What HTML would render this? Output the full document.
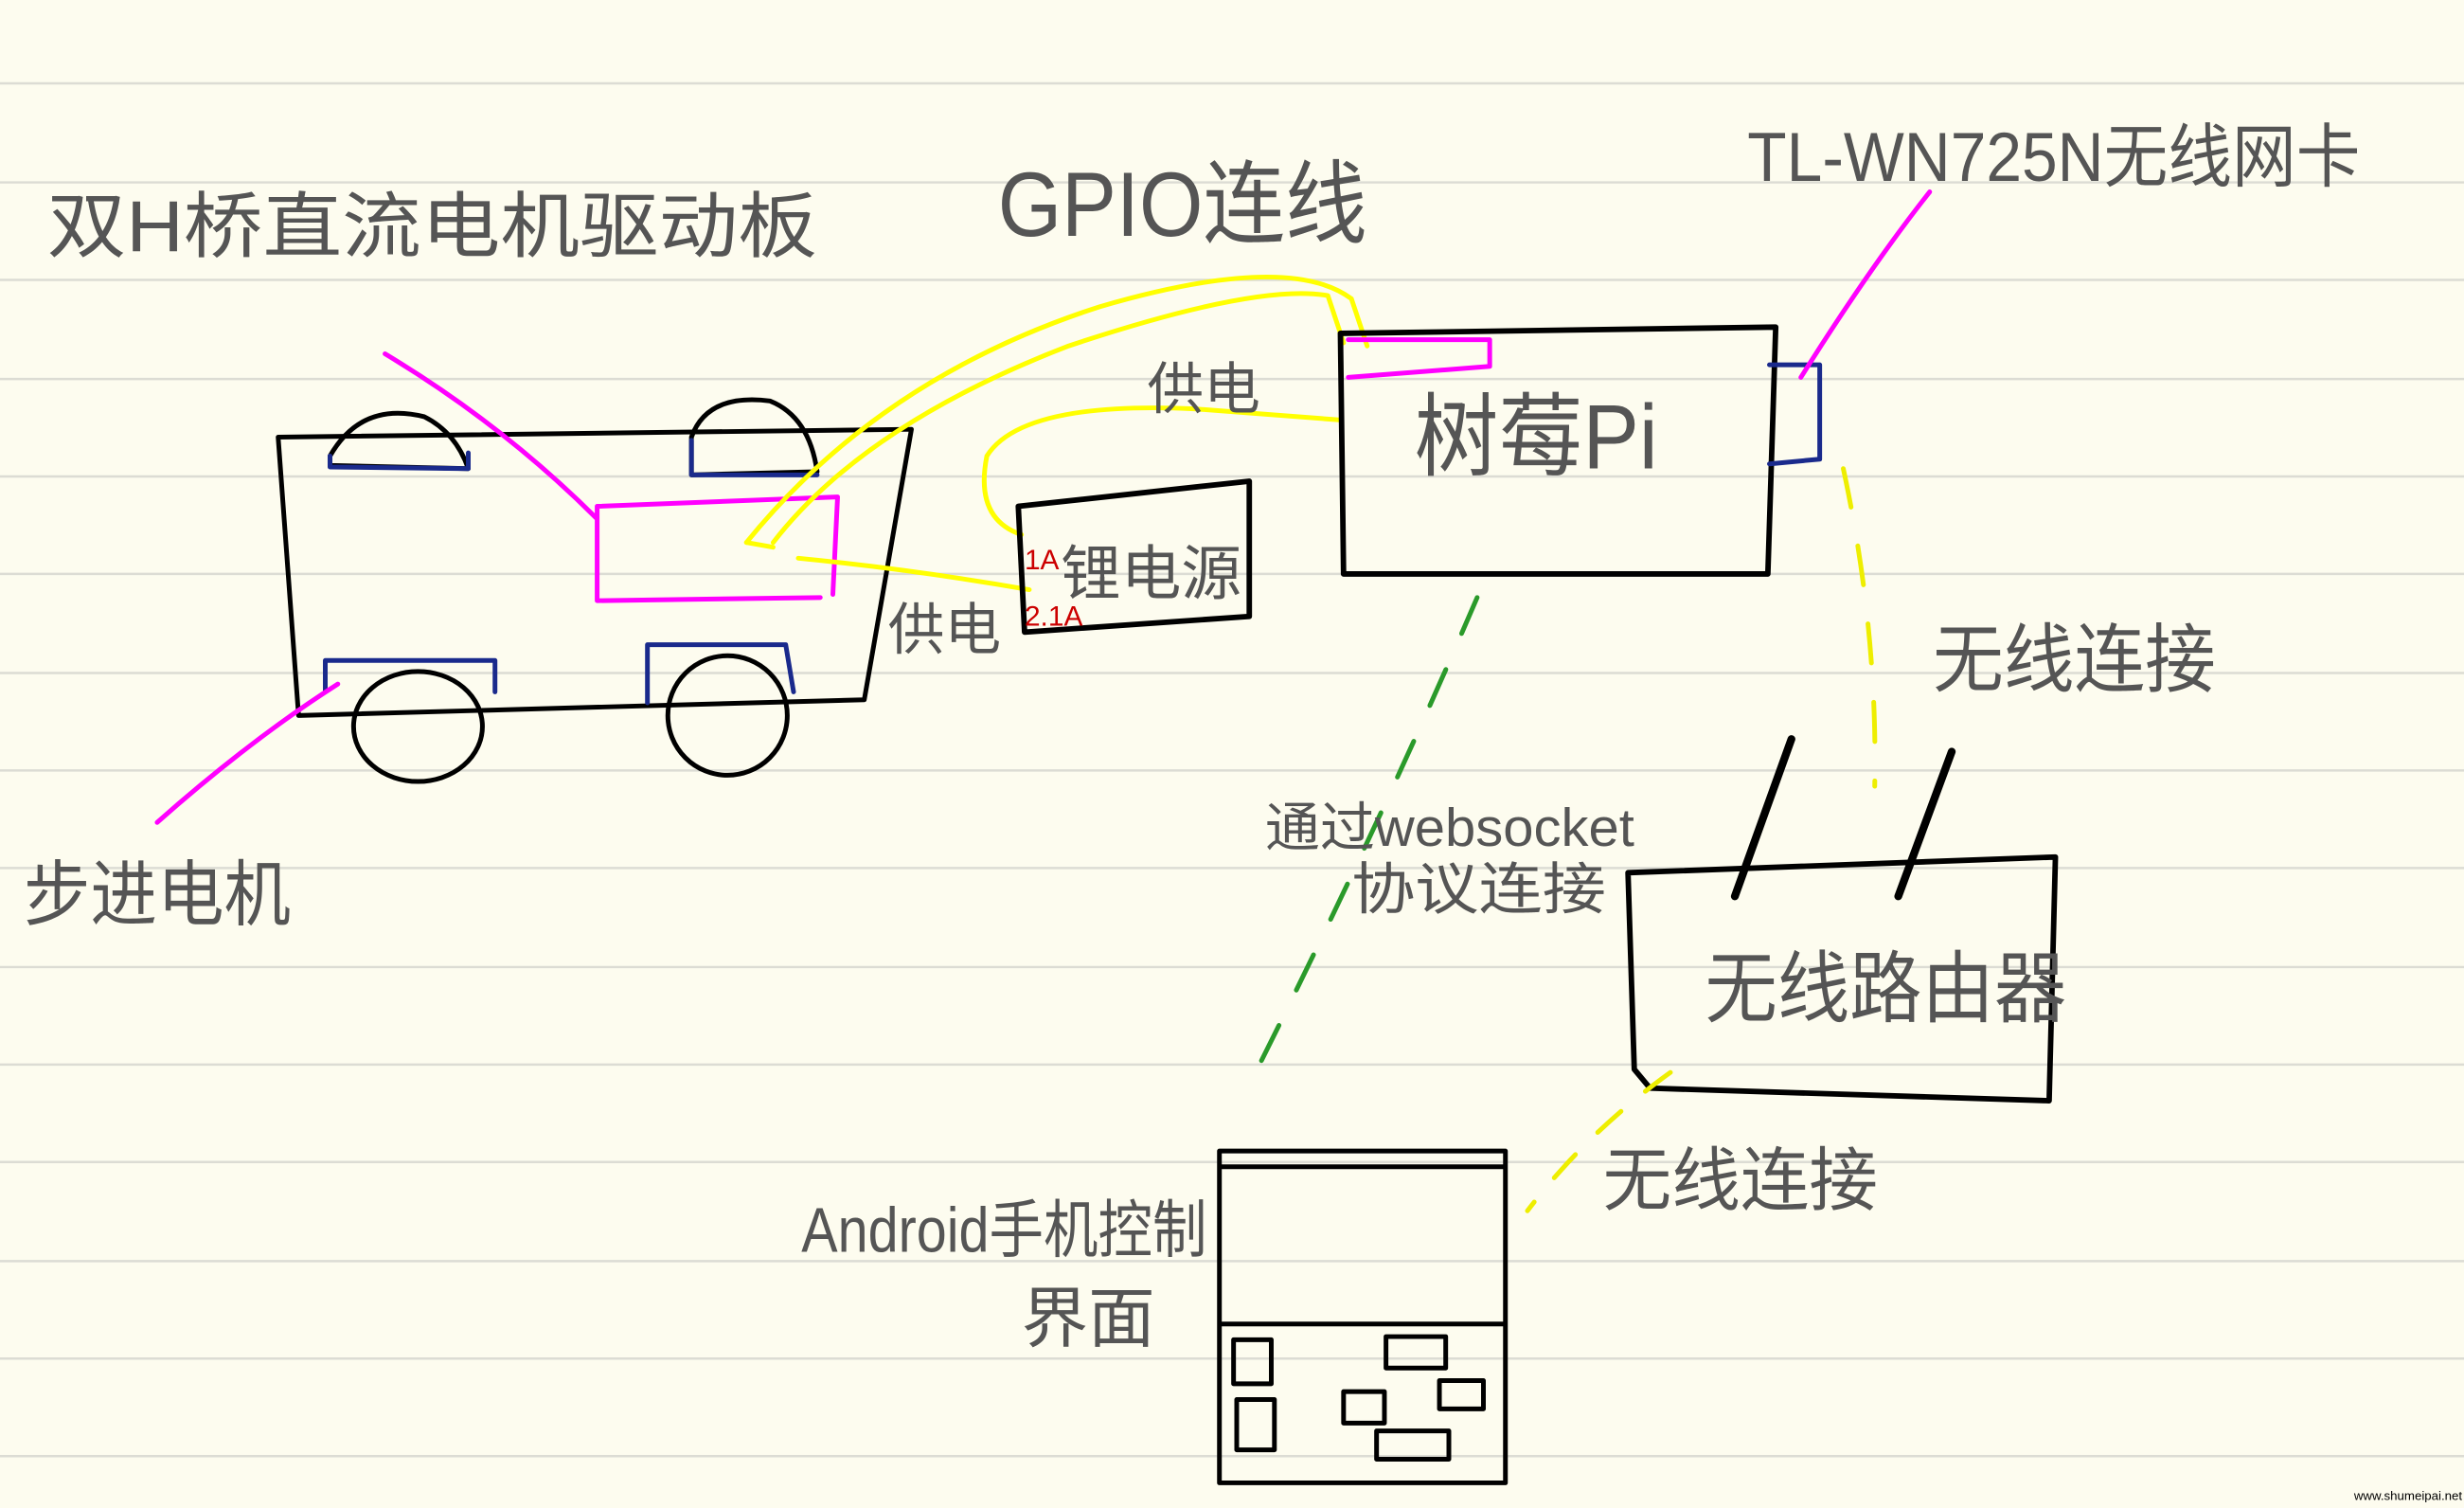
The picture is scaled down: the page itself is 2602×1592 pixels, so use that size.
<!DOCTYPE html>
<html><head><meta charset="utf-8"><style>
html,body{margin:0;padding:0;background:#fdfcef;}
svg{display:block}
text{font-family:"Liberation Sans","Noto Sans CJK SC",sans-serif;fill:#555;}
</style></head><body>
<svg width="2602" height="1592" viewBox="0 0 1568 959" preserveAspectRatio="none" xmlns="http://www.w3.org/2000/svg">
<rect width="1568" height="959" fill="#fdfcef"/>
<g stroke="#dcdcd4" stroke-width="1.5">
<line x1="0" y1="53" x2="1568" y2="53"/><line x1="0" y1="116" x2="1568" y2="116"/><line x1="0" y1="178" x2="1568" y2="178"/><line x1="0" y1="241" x2="1568" y2="241"/><line x1="0" y1="303" x2="1568" y2="303"/><line x1="0" y1="365" x2="1568" y2="365"/><line x1="0" y1="428" x2="1568" y2="428"/><line x1="0" y1="490" x2="1568" y2="490"/><line x1="0" y1="552" x2="1568" y2="552"/><line x1="0" y1="615" x2="1568" y2="615"/><line x1="0" y1="677" x2="1568" y2="677"/><line x1="0" y1="739" x2="1568" y2="739"/><line x1="0" y1="802" x2="1568" y2="802"/><line x1="0" y1="864" x2="1568" y2="864"/><line x1="0" y1="926" x2="1568" y2="926"/>
</g>
<g fill="none" stroke-linecap="round" stroke-linejoin="round">
<path d="M177 278 L580 273 L550 445 L190 455 Z M177 278 L190 455" stroke="#000" stroke-width="3"/>
<path d="M210 290 Q230 255 270 265 Q290 275 298 298 L210 296 Z" stroke="#000" stroke-width="3"/>
<path d="M440 278 Q450 250 490 255 Q515 265 520 300 L440 302 Z" stroke="#000" stroke-width="3"/>
<ellipse cx="266" cy="462" rx="41" ry="35" stroke="#000" stroke-width="3"/>
<ellipse cx="463" cy="455" rx="38" ry="38" stroke="#000" stroke-width="3"/>
<path d="M210 290 L210 297 L298 298 L298 288 M440 280 L440 302 L520 302" stroke="#1a2a8c" stroke-width="3"/>
<path d="M207 440 L207 420 L315 420 L315 440 M412 447 L412 410 L500 410 L505 440" stroke="#1a2a8c" stroke-width="3"/>
<path d="M380 322 L533 316 L530 378 M380 322 L380 382 L522 380 M245 225 Q320 270 380 330" stroke="#f0f" stroke-width="3"/>
<path d="M100 523 Q160 470 215 435" stroke="#f0f" stroke-width="3"/>
<path d="M475 345 Q560 240 700 195 Q820 160 860 190 L870 220 M492 345 Q550 270 680 220 Q800 180 845 188 L855 218" stroke="#ff0" stroke-width="3"/>
<path d="M475 345 L492 348" stroke="#ff0" stroke-width="3"/>
<path d="M508 355 Q580 362 655 375 M650 340 Q620 330 628 290 Q650 255 760 260 L852 267" stroke="#ff0" stroke-width="3"/>
<path d="M648 322 L795 306 L795 392 L652 402 Z" stroke="#000" stroke-width="3.5"/>
<path d="M853 212 L1130 208 L1125 365 L855 365 Z" stroke="#000" stroke-width="3.5"/>
<path d="M858 216 L948 216 L948 233 L858 240" stroke="#f0f" stroke-width="3"/>
<path d="M1126 232 L1158 232 L1158 292 L1126 295" stroke="#1a2a8c" stroke-width="3"/>
<path d="M1146 240 Q1190 170 1228 122" stroke="#f0f" stroke-width="3"/>
<path d="M1036 555 L1308 545 L1304 700 L1050 692 L1040 680 Z" stroke="#000" stroke-width="3.5"/>
<path d="M1104 570 L1140 470 M1208 570 L1242 478" stroke="#000" stroke-width="5"/>
<path d="M1173 298 Q1195 400 1193 500" stroke="#ee0" stroke-width="3" stroke-dasharray="25 25"/>
<path d="M1063 682 Q1010 720 972 770" stroke="#ee0" stroke-width="3" stroke-dasharray="20 20"/>
<path d="M940 380 Q880 520 800 680" stroke="#2a9a2a" stroke-width="3" stroke-dasharray="25 25"/>
<path d="M776 732 L958 732 L958 943 L776 943 Z M776 742 L958 742 M776 842 L958 842" stroke="#000" stroke-width="3"/>
<rect x="785" y="852" width="24" height="28" stroke="#000" stroke-width="3"/>
<rect x="787" y="890" width="24" height="32" stroke="#000" stroke-width="3"/>
<rect x="882" y="850" width="38" height="20" stroke="#000" stroke-width="3"/>
<rect x="916" y="878" width="28" height="18" stroke="#000" stroke-width="3"/>
<rect x="855" y="885" width="26" height="20" stroke="#000" stroke-width="3"/>
<rect x="876" y="910" width="46" height="18" stroke="#000" stroke-width="3"/>
</g>
<text x="30" y="160" font-size="46" textLength="490" lengthAdjust="spacingAndGlyphs">双H桥直流电机驱动板</text>
<text x="635" y="150" font-size="58" textLength="235" lengthAdjust="spacingAndGlyphs">GPIO连线</text>
<text x="1112" y="115" font-size="44" textLength="390" lengthAdjust="spacingAndGlyphs">TL-WN725N无线网卡</text>
<text x="730" y="260" font-size="36">供电</text>
<text x="565" y="413" font-size="36">供电</text>
<text x="675" y="378" font-size="38" textLength="115" lengthAdjust="spacingAndGlyphs">锂电源</text>
<text x="652" y="362" font-size="18" style="fill:#c00">1A</text>
<text x="652" y="398" font-size="18" style="fill:#c00">2.1A</text>
<text x="900" y="298" font-size="58" textLength="155" lengthAdjust="spacingAndGlyphs">树莓Pi</text>
<text x="1230" y="436" font-size="48" textLength="180" lengthAdjust="spacingAndGlyphs">无线连接</text>
<text x="805" y="538" font-size="34" textLength="235" lengthAdjust="spacingAndGlyphs">通过websocket</text>
<text x="860" y="578" font-size="36" textLength="162" lengthAdjust="spacingAndGlyphs">协议连接</text>
<text x="1085" y="646" font-size="50" textLength="230" lengthAdjust="spacingAndGlyphs">无线路由器</text>
<text x="1020" y="766" font-size="44" textLength="175" lengthAdjust="spacingAndGlyphs">无线连接</text>
<text x="15" y="585" font-size="46" textLength="170" lengthAdjust="spacingAndGlyphs">步进电机</text>
<text x="510" y="796" font-size="40" textLength="258" lengthAdjust="spacingAndGlyphs">Android手机控制</text>
<text x="650" y="853" font-size="42" textLength="85" lengthAdjust="spacingAndGlyphs">界面</text>
<text x="1498" y="954" font-size="8" style="fill:#000">www.shumeipai.net</text>
</svg>
</body></html>
